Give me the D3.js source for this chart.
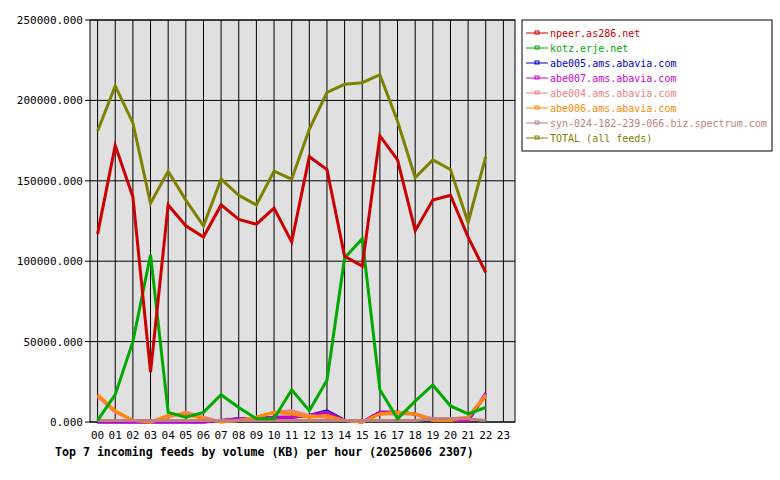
<!DOCTYPE html><html><head><meta charset="utf-8">
<script src="https://cdn.jsdelivr.net/npm/d3@7"></script>
<style>body{margin:0;background:#fff}text{font-family:"DejaVu Sans Mono",monospace}</style></head><body>
<svg id="c" width="780" height="480"></svg>
<script>
const hours=["00","01","02","03","04","05","06","07","08","09","10","11","12","13","14","15","16","17","18","19","20","21","22","23"];
const yTicks=[0,50000,100000,150000,200000,250000];
const names=["npeer.as286.net","kotz.erje.net","abe005.ams.abavia.com","abe007.ams.abavia.com","abe004.ams.abavia.com","abe006.ams.abavia.com","syn-024-182-239-066.biz.spectrum.com","TOTAL (all feeds)"];
const colors=["#cc0000","#00aa00","#0000cc","#cc00cc","#f08080","#ff8800","#c08080","#808000"];
const npeer=[117000,172000,140000,31000,135000,122000,115000,135000,126000,123000,133000,112000,165000,157000,103000,97000,178000,163000,119000,138000,141000,115000,93000];
const kotz=[1000,17000,50000,104000,6000,3000,6000,17000,9000,2000,2000,20000,7000,26000,102000,114000,20000,2000,13000,23000,10000,5000,9000];
const abe005=[0,0,0,0,0,0,0,1000,2000,2000,3000,3000,4000,7000,1000,0,6000,6000,5000,1000,1000,1000,17000];
const abe007=[0,0,0,0,0,0,0,1000,2000,2000,3000,3000,4000,6000,1000,0,6000,6000,5000,1000,1000,1000,18000];
const abe004=[16000,6000,1000,0,3000,6000,3000,0,1000,3000,6000,7000,4000,3000,1000,0,5000,5000,5000,2000,2000,3000,17000];
const abe006=[17000,7000,1000,0,4000,5000,2000,0,1000,3000,6000,5000,3000,4000,1000,0,5000,6000,5000,1000,1000,3000,16000];
const spectrum=[1000,1000,1000,1000,1000,1000,1000,1000,1000,1000,1000,1000,1000,1000,1000,1000,1000,1000,1000,2000,2000,2000,1000];
const total=[181000,209000,186000,136000,156000,138000,122000,151000,141000,135000,156000,151000,182000,205000,210000,211000,216000,187000,152000,163000,157000,124000,165000];
const series=[npeer,kotz,abe005,abe007,abe004,abe006,spectrum,total];
const svg=d3.select("#c");
const L=90,R=515,T=20,B=422;
const x=d3.scalePoint().domain(hours).range([97.6,503.4]);
const y=d3.scaleLinear().domain([0,250000]).range([B,T]);
svg.append("rect").attr("x",L).attr("y",T).attr("width",R-L).attr("height",B-T).attr("fill","#e0e0e0");
svg.append("g").selectAll("line").data(hours).join("line").attr("x1",d=>x(d)).attr("x2",d=>x(d)).attr("y1",T).attr("y2",B).attr("stroke","#000");
svg.append("g").selectAll("line").data(yTicks).join("line").attr("x1",L-5).attr("x2",R).attr("y1",d=>y(d)).attr("y2",d=>y(d)).attr("stroke","#000");
svg.append("rect").attr("x",L).attr("y",T).attr("width",R-L).attr("height",B-T).attr("fill","none").attr("stroke","#000");
svg.append("g").selectAll("text").data(yTicks).join("text").attr("x",L-7).attr("y",d=>y(d)+4).attr("text-anchor","end").attr("font-size",11).text(d=>d+".000");
svg.append("g").selectAll("text").data(hours).join("text").attr("x",d=>x(d)).attr("y",B+17).attr("text-anchor","middle").attr("font-size",11).text(d=>d);
svg.append("text").attr("x",55).attr("y",456).attr("font-size",11.6).attr("font-weight","bold").text("Top 7 incoming feeds by volume (KB) per hour (20250606 2307)");
const line=d3.line().x((d,i)=>x(hours[i])).y(d=>y(d));
const order=[2,3,4,5,6,1,0,7];
order.forEach(k=>svg.append("path").attr("d",line(series[k])).attr("fill","none").attr("stroke",colors[k]).attr("stroke-width",3));
const lg=svg.append("g");
lg.append("rect").attr("x",522).attr("y",20).attr("width",250).attr("height",131).attr("fill","#fff").attr("stroke","#000");
names.forEach((n,i)=>{const yy=33+i*15;
lg.append("line").attr("x1",526).attr("x2",548).attr("y1",yy).attr("y2",yy).attr("stroke",colors[i]);
lg.append("rect").attr("x",535).attr("y",yy-2).attr("width",4).attr("height",3).attr("fill","none").attr("stroke",colors[i]);
lg.append("text").attr("x",550).attr("y",yy+4).attr("font-size",10).attr("fill",colors[i]).text(n);});
</script></body></html>
